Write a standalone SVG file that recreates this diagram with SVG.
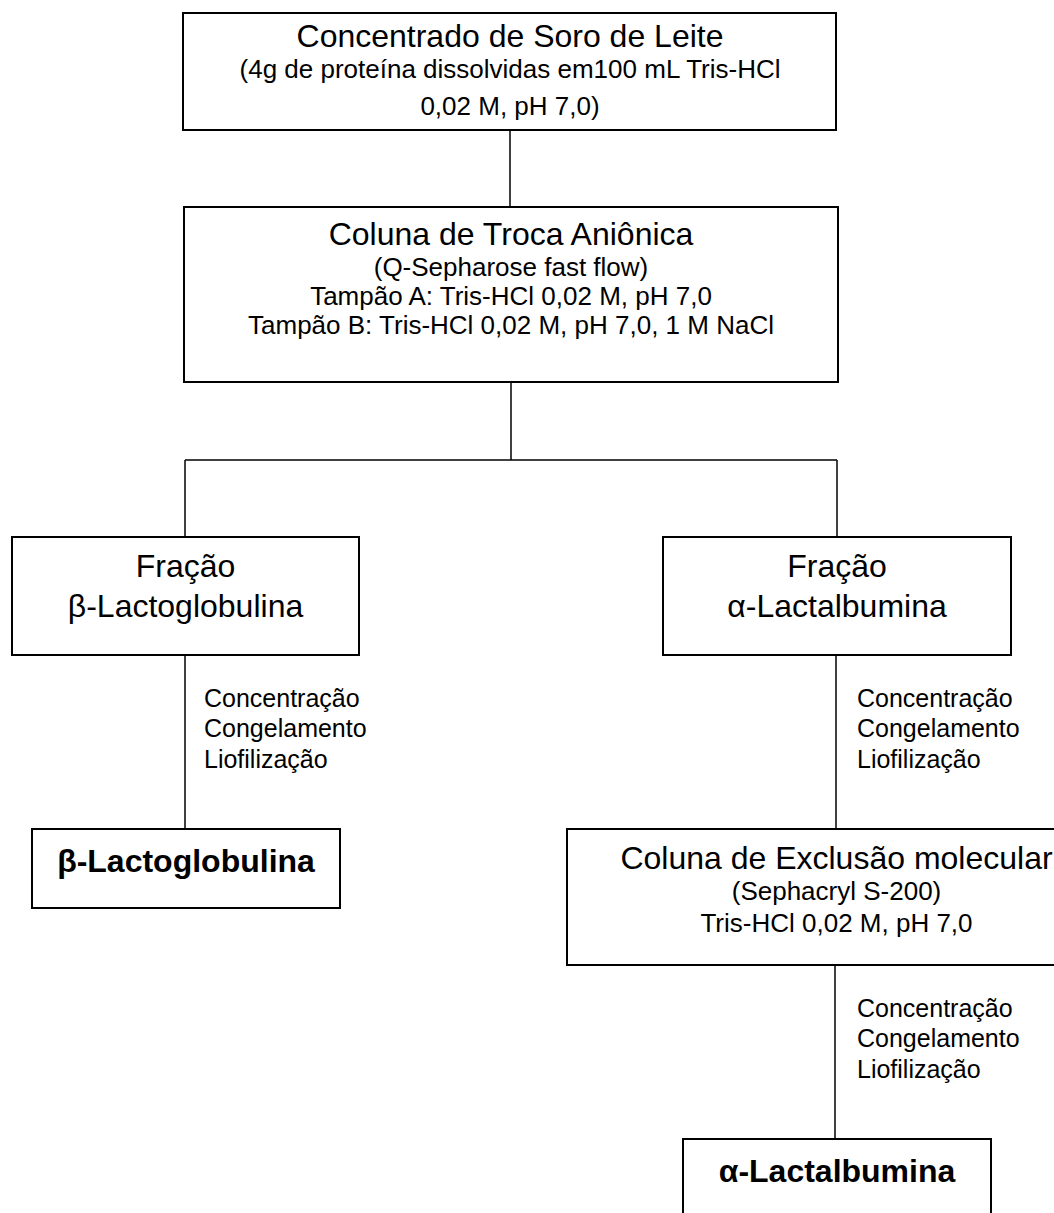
<svg xmlns="http://www.w3.org/2000/svg" width="1054" height="1213" viewBox="0 0 1054 1213">
<style>
.box{fill:#fff;stroke:#000;stroke-width:2}
.con{fill:none;stroke:#000;stroke-width:1.5}
text{font-family:"Liberation Sans",Arial,sans-serif;fill:#000}
.t{font-size:32px;text-anchor:middle}
.s{font-size:26px;text-anchor:middle}
.b{font-size:32px;font-weight:bold;text-anchor:middle}
.l{font-size:25px}
</style>
<rect width="1054" height="1213" fill="#fff"/>
<g id="connectors">
<line class="con" x1="510" y1="130" x2="510" y2="207"/>
<line class="con" x1="511" y1="382" x2="511" y2="460"/>
<line class="con" x1="185" y1="460" x2="837" y2="460"/>
<line class="con" x1="185" y1="460" x2="185" y2="537"/>
<line class="con" x1="837" y1="460" x2="837" y2="537"/>
<line class="con" x1="185" y1="655" x2="185" y2="829"/>
<line class="con" x1="836" y1="655" x2="836" y2="829"/>
<line class="con" x1="835" y1="965" x2="835" y2="1139"/>
<g id="labels-left">
<text class="l" x="204" y="707">Concentração</text>
<text class="l" x="204" y="737">Congelamento</text>
<text class="l" x="204" y="768">Liofilização</text>
</g>
<g id="labels-right">
<text class="l" x="857" y="707">Concentração</text>
<text class="l" x="857" y="737">Congelamento</text>
<text class="l" x="857" y="768">Liofilização</text>
</g>
<g id="labels-bottom">
<text class="l" x="857" y="1017">Concentração</text>
<text class="l" x="857" y="1047">Congelamento</text>
<text class="l" x="857" y="1078">Liofilização</text>
</g>
</g>
<g id="n1">
<rect class="box" x="183" y="13" width="653" height="117"/>
<text class="t" x="510" y="47">Concentrado de Soro de Leite</text>
<text class="s" x="510" y="78">(4g de proteína dissolvidas em100 mL Tris-HCl</text>
<text class="s" x="510" y="115">0,02 M, pH 7,0)</text>
</g>
<g id="n2">
<rect class="box" x="184" y="207" width="654" height="175"/>
<text class="t" x="511" y="245">Coluna de Troca Aniônica</text>
<text class="s" x="511" y="276">(Q-Sepharose fast flow)</text>
<text class="s" x="511" y="305">Tampão A: Tris-HCl 0,02 M, pH 7,0</text>
<text class="s" x="511" y="334">Tampão B: Tris-HCl 0,02 M, pH 7,0, 1 M NaCl</text>
</g>
<g id="n3">
<rect class="box" x="12" y="537" width="347" height="118"/>
<text class="t" x="185.5" y="577">Fração</text>
<text class="t" x="185.5" y="617">β-Lactoglobulina</text>
</g>
<g id="n4">
<rect class="box" x="663" y="537" width="348" height="118"/>
<text class="t" x="837" y="577">Fração</text>
<text class="t" x="837" y="617">α-Lactalbumina</text>
</g>
<g id="n5">
<rect class="box" x="32" y="829" width="308" height="79"/>
<text class="b" x="186" y="872">β-Lactoglobulina</text>
</g>
<g id="n6">
<rect class="box" x="567" y="829" width="540" height="136"/>
<text class="t" x="836.5" y="869">Coluna de Exclusão molecular</text>
<text class="s" x="836.5" y="900">(Sephacryl S-200)</text>
<text class="s" x="836.5" y="932">Tris-HCl 0,02 M, pH 7,0</text>
</g>
<g id="n7">
<rect class="box" x="683" y="1139" width="308" height="100"/>
<text class="b" x="837" y="1182">α-Lactalbumina</text>
</g>
</svg>
